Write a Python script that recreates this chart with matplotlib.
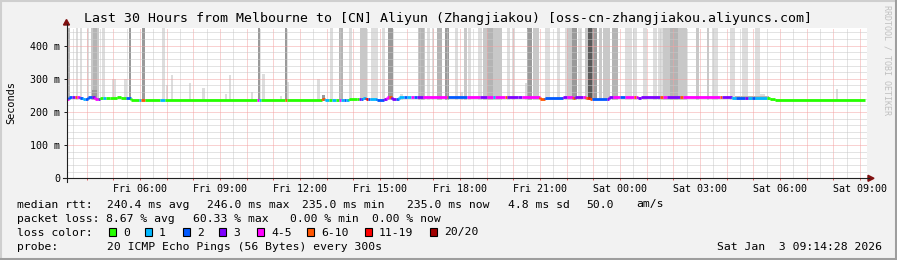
import matplotlib.pyplot as plt
from matplotlib.lines import Line2D
from matplotlib.patches import Polygon, Rectangle

plt.rcParams['font.family'] = ['DejaVu Sans Mono']

# median rtt, one entry per run: start hour (counted from Fri 00:00), rtt in ms, loss colour index
seg_start = [3.24, 3.34, 3.45, 3.56, 3.64, 3.75, 3.86, 3.94, 4.05, 4.20, 4.31, 4.43, 4.50, 4.61,
             4.73, 4.88, 5.14, 5.29, 5.48, 5.66, 5.96, 6.02, 6.19, 6.75, 6.92, 10.39, 10.48,
             10.52, 11.44, 11.53, 12.83, 12.94, 13.09, 13.20, 13.35, 13.46, 13.54, 13.65, 13.73,
             13.84, 14.14, 14.21, 14.29, 14.36, 14.48, 14.55, 14.63, 14.89, 15.15, 15.26, 15.34,
             15.45, 15.60, 15.71, 15.90, 16.01, 16.16, 16.28, 16.39, 16.61, 17.51, 17.55, 18.26,
             18.75, 19.01, 19.24, 19.31, 19.69, 19.76, 20.18, 20.33, 21.00, 21.19, 21.86, 22.01,
             22.24, 22.31, 22.61, 22.73, 22.80, 22.88, 22.95, 23.51, 23.59, 23.74, 24.00, 24.19,
             24.53, 24.60, 24.68, 24.79, 25.50, 25.61, 25.76, 26.25, 26.36, 27.75, 27.83, 28.20,
             28.35, 28.69, 28.80, 28.95, 29.06, 29.51, 29.63, 29.81]
seg_rtt = [238, 244, 245, 244, 245, 242, 238, 238, 246, 245, 240, 238, 243, 243,
           243, 242, 244, 242, 241, 235, 235, 235, 235, 235, 235, 235, 235,
           235, 235, 235, 238, 236, 236, 235, 235, 235, 235, 236, 235,
           239, 240, 240, 238, 242, 240, 239, 240, 236, 238, 244, 244,
           240, 239, 246, 246, 246, 246, 246, 246, 246, 246, 246, 246,
           245, 246, 246, 246, 246, 246, 245, 246, 238, 243, 246, 246,
           242, 244, 244, 242, 243, 240, 238, 239, 246, 246, 246, 246,
           246, 246, 242, 246, 246, 246, 246, 246, 246, 246, 246, 243,
           242, 241, 242, 241, 241, 242, 239, 235]
seg_loss = [4, 2, 3, 5, 4, 2, 1, 2, 2, 3, 4, 3, 0, 1,
            0, 0, 0, 0, 2, 0, 1, 5, 0, 1, 0, 4, 1,
            0, 5, 0, 5, 1, 0, 1, 0, 4, 1, 2, 1,
            0, 0, 3, 2, 1, 6, 2, 1, 2, 3, 4, 5,
            3, 2, 1, 2, 1, 4, 2, 3, 4, 5, 2, 4,
            3, 4, 1, 4, 5, 3, 3, 4, 5, 2, 3, 4,
            5, 3, 4, 5, 6, 5, 2, 3, 3, 4, 2, 4,
            5, 4, 3, 3, 5, 4, 3, 5, 4, 5, 3, 1,
            2, 3, 1, 2, 1, 0, 0, 0]
seg_end = 33.19

# smoke: start hour, end hour, top (ms), shade index
smoke_start = [3.24, 3.60, 3.75, 4.01, 4.16, 4.24, 4.20, 4.58, 4.95, 5.40, 5.59, 6.08, 6.83,
               6.98, 7.16, 7.84, 8.33, 9.19, 9.34, 10.16, 10.43, 10.58, 11.25, 11.44, 11.51,
               12.64, 12.83, 13.13, 13.46, 13.84, 14.25, 14.66, 15.08, 15.30, 15.75, 16.43,
               16.48, 16.76, 16.95, 17.14, 17.44, 17.81, 18.00, 18.15, 18.30, 18.68, 18.86,
               19.01, 19.76, 19.95, 20.44, 20.51, 20.74, 21.19, 21.64, 21.94, 22.01, 22.20,
               22.43, 22.69, 22.80, 22.95, 23.21, 23.36, 23.51, 23.70, 24.19, 24.49, 24.86,
               25.24, 25.43, 25.61, 25.88, 26.85, 27.26, 27.45, 28.13, 28.58, 28.69, 29.06,
               29.25, 28.30, 32.10]
smoke_end = [3.38, 3.68, 3.83, 4.09, 4.46, 4.39, 4.40, 4.69, 5.10, 5.51, 5.66, 6.19, 6.94,
             7.05, 7.24, 7.91, 8.44, 9.26, 9.41, 10.24, 10.50, 10.69, 11.33, 11.51, 11.59,
             12.75, 12.94, 13.24, 13.61, 13.95, 14.51, 14.93, 15.19, 15.49, 15.86, 16.69,
             16.65, 16.88, 17.03, 17.33, 17.59, 17.93, 18.11, 18.26, 18.41, 18.83, 19.58,
             19.24, 19.88, 20.06, 20.55, 20.70, 20.96, 21.38, 21.75, 22.01, 22.20, 22.39,
             22.58, 22.80, 22.95, 23.14, 23.33, 23.51, 23.63, 23.93, 24.45, 24.64, 25.01,
             25.39, 25.61, 26.51, 26.18, 26.96, 27.34, 27.68, 28.31, 28.69, 28.80, 29.25,
             29.44, 29.60, 32.18]
smoke_top = [460, 460, 460, 460, 460, 460, 265, 460, 300, 300, 460, 460, 460,
             280, 310, 287, 271, 253, 310, 260, 460, 313, 248, 460, 290,
             300, 252, 460, 460, 460, 460, 460, 460, 460, 255, 460,
             460, 460, 460, 460, 460, 460, 260, 460, 460, 460, 460,
             460, 460, 460, 286, 460, 460, 460, 460, 460, 460, 460,
             460, 460, 460, 460, 460, 460, 460, 460, 460, 460, 460,
             460, 460, 460, 460, 460, 460, 460, 460, 460, 460, 460,
             255, 248, 268]
smoke_shade = [2, 0, 0, 0, 1, 2, 3, 0, 0, 0, 3, 3, 0,
               0, 0, 0, 0, 0, 0, 0, 3, 0, 0, 3, 0,
               0, 3, 0, 2, 0, 1, 0, 0, 3, 0, 1,
               2, 0, 0, 2, 3, 0, 0, 1, 0, 0, 1,
               2, 0, 0, 0, 3, 1, 0, 0, 0, 1, 3,
               0, 1, 5, 3, 1, 1, 1, 2, 0, 0, 0,
               0, 0, 1, 2, 1, 1, 0, 0, 0, 0, 0,
               0, 2, 0]

loss_labels = ['0', '1', '2', '3', '4-5', '6-10', '11-19', '20/20']
loss_colors = ['#26ff00', '#00b8ff', '#0059ff', '#7e00ff', '#ff00ff', '#ff5500', '#ff0000', '#a10000']
shades = ['#dddddd', '#c8c8c8', '#b4b4b4', '#9a9a9a', '#808080', '#5a5a5a']

hour_ticks = [6, 9, 12, 15, 18, 21, 24, 27, 30, 33]
hour_labels = ['Fri 06:00', 'Fri 09:00', 'Fri 12:00', 'Fri 15:00', 'Fri 18:00',
               'Fri 21:00', 'Sat 00:00', 'Sat 03:00', 'Sat 06:00', 'Sat 09:00']
ms_ticks = [0, 100, 200, 300, 400]
ms_labels = ['0', '100 m', '200 m', '300 m', '400 m']

W, H = 897, 260
fig = plt.figure(figsize=(W / 100, H / 100), dpi=100, facecolor='#f2f2f2')


def fx(x):
    return x / W


def fy(y):
    return 1 - y / H


ax = fig.add_axes([fx(66.5), fy(178.3), 800 / W, (178.3 - 27.7) / H])
ax.set_facecolor('white')
ax.set_xlim(3.244, 33.244)
ax.set_ylim(0, 454)
for s in ax.spines.values():
    s.set_visible(False)

# smoke
for i in range(len(smoke_start)):
    ax.bar(smoke_start[i], smoke_top[i] - 236, width=smoke_end[i] - smoke_start[i], bottom=236,
           align='edge', color=shades[smoke_shade[i]], linewidth=0, zorder=1)

# grid, dotted
for h in range(4, 34):
    ax.axvline(h - 0.5, color='#c8c8c8', lw=0.72, ls=(0, (1, 1)), zorder=2)
    ax.axvline(h, color='#f4a4a4', lw=0.72, ls=(0, (1, 1)), zorder=2)
for v in range(20, 454, 20):
    if v % 100 == 0:
        ax.axhline(v, color='#f4a4a4', lw=0.72, ls=(0, (1, 1)), zorder=2)
    else:
        ax.axhline(v, color='#c8c8c8', lw=0.72, ls=(0, (1, 1)), zorder=2)

# median line
for i in range(len(seg_start)):
    end = seg_start[i + 1] if i + 1 < len(seg_start) else seg_end
    c = loss_colors[seg_loss[i]]
    ax.plot([seg_start[i], end], [seg_rtt[i], seg_rtt[i]], color=c, lw=2.0,
            solid_capstyle='butt', zorder=4)
    if i > 0 and seg_rtt[i] != seg_rtt[i - 1]:
        ax.plot([seg_start[i], seg_start[i]], [seg_rtt[i - 1], seg_rtt[i]], color=c, lw=2.0,
                solid_capstyle='butt', zorder=4)

ax.set_xticks(hour_ticks)
ax.set_xticklabels(hour_labels)
ax.set_xticks(range(4, 34), minor=True)
ax.set_yticks(ms_ticks)
ax.set_yticklabels(ms_labels)
ax.tick_params(axis='x', which='both', length=1.6, width=0.72, color='#e06060', pad=2.4,
               labelsize=7.2)
ax.tick_params(axis='y', length=2.5, width=0.72, color='#202020', pad=2.2, labelsize=7.2)
fig.text(fx(11), fy(102.5), 'Seconds', rotation=90, ha='center', va='center', fontsize=7.4)

# axes lines and arrows
fig.add_artist(Line2D([fx(62.5), fx(869)], [fy(178.3), fy(178.3)], color='#202020', lw=0.8))
fig.add_artist(Line2D([fx(66.5), fx(66.5)], [fy(181.5), fy(24)], color='#202020', lw=0.8))
fig.add_artist(Polygon([[fx(868), fy(175.3)], [fx(868), fy(181.3)], [fx(874), fy(178.3)]],
                       closed=True, color='#801010', transform=fig.transFigure))
fig.add_artist(Polygon([[fx(63.5), fy(25)], [fx(69.5), fy(25)], [fx(66.5), fy(19.5)]],
                       closed=True, color='#801010', transform=fig.transFigure))

fig.text(fx(448), fy(18.5),
         'Last 30 Hours from Melbourne to [CN] Aliyun (Zhangjiakou) [oss-cn-zhangjiakou.aliyuncs.com]',
         ha='center', va='center', fontsize=9.55)
fig.text(fx(887), fy(5), 'RRDTOOL / TOBI OETIKER', rotation=-90, ha='center', va='top',
         fontsize=6, color='#c0c0c0')

# legend rows
r1, r2, r3, r4 = 204.5, 218.5, 232.5, 246.5
fs = 8.2
fig.text(fx(16.5), fy(r1), 'median rtt:', va='center', fontsize=fs)
for txt, x in [('240.4 ms avg', 107.3), ('246.0 ms max', 207.3), ('235.0 ms min', 301.7),
               ('235.0 ms now', 407.3), ('4.8 ms sd', 508), ('50.0', 586), ('am/s', 636.5)]:
    fig.text(fx(x), fy(r1), txt, va='center', fontsize=fs)
fig.text(fx(16.5), fy(r2), 'packet loss:', va='center', fontsize=fs)
for txt, x in [('8.67 % avg', 106), ('60.33 % max', 192.7), ('0.00 % min', 290),
               ('0.00 % now', 371.5)]:
    fig.text(fx(x), fy(r2), txt, va='center', fontsize=fs)
fig.text(fx(16.5), fy(r3), 'loss color:', va='center', fontsize=fs)
box_x = [109, 145, 183, 219, 257, 307, 365, 430]
for i in range(len(loss_labels)):
    fig.add_artist(Rectangle((fx(box_x[i]), fy(235.5)), 7 / W, 7.5 / H, facecolor=loss_colors[i],
                             edgecolor='black', lw=0.8, transform=fig.transFigure))
    fig.text(fx(box_x[i] + 14), fy(r3), loss_labels[i], va='center', fontsize=fs)
fig.text(fx(16.5), fy(r4), 'probe:', va='center', fontsize=fs)
fig.text(fx(107.3), fy(r4), '20 ICMP Echo Pings (56 Bytes) every 300s', va='center', fontsize=fs)
fig.text(fx(882), fy(r4), 'Sat Jan  3 09:14:28 2026', ha='right', va='center', fontsize=fs)

# frame
fig.add_artist(Line2D([0, 1], [fy(0.5), fy(0.5)], color='#cfcfcf', lw=1.5))
fig.add_artist(Line2D([fx(0.5), fx(0.5)], [0, 1], color='#cfcfcf', lw=1.5))
fig.add_artist(Line2D([0, 1], [fy(258.5), fy(258.5)], color='#9e9e9e', lw=2.2))
fig.add_artist(Line2D([fx(895.5), fx(895.5)], [0, 1], color='#9e9e9e', lw=2.2))

fig.savefig('out.png', dpi=100, facecolor=fig.get_facecolor())
